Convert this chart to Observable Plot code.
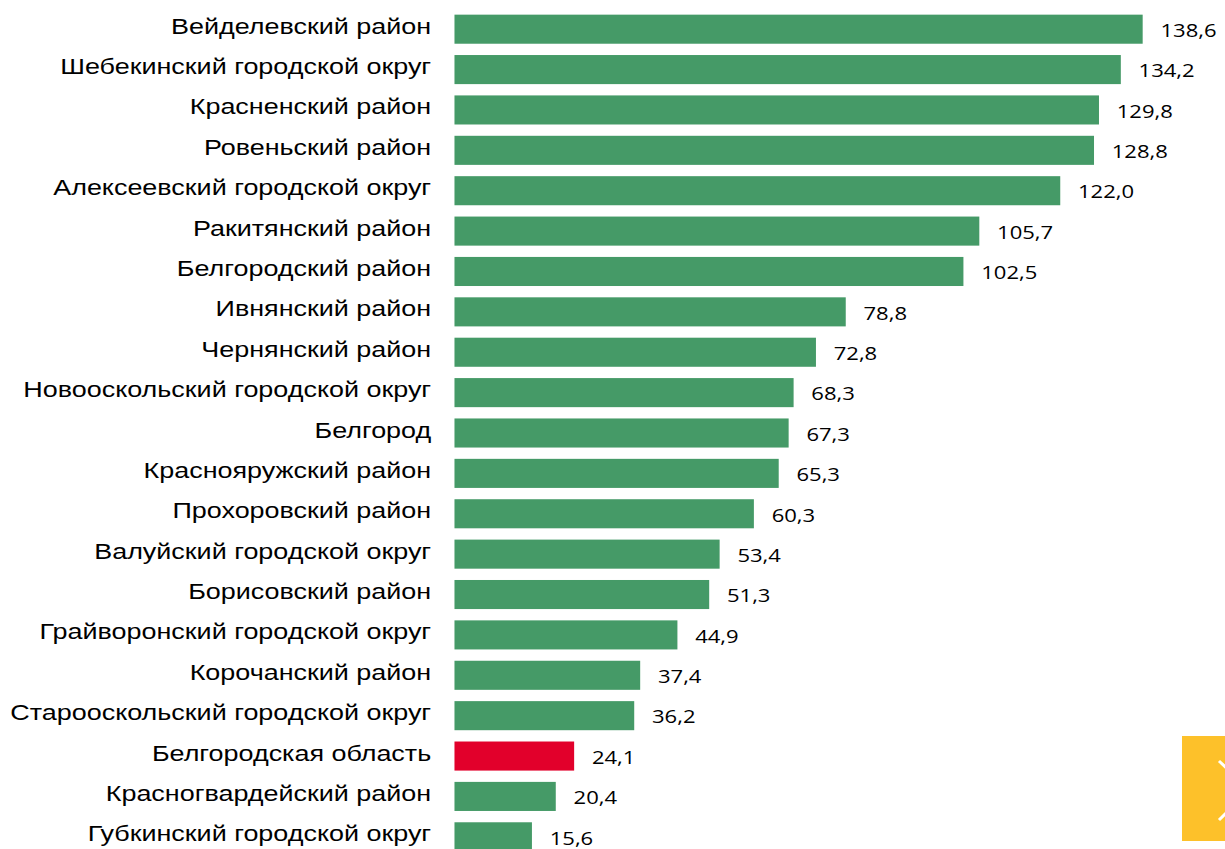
<!DOCTYPE html>
<html>
<head>
<meta charset="utf-8">
<script src="https://cdn.jsdelivr.net/npm/d3@7"></script>
<script src="https://cdn.jsdelivr.net/npm/@observablehq/plot@0.6"></script>
<style>
  html, body { margin: 0; padding: 0; background: #fff; overflow: hidden; width: 1225px; height: 849px; }
  #chart { position: absolute; left: 0; top: 0; }
  #chart svg { transform: scaleX(1.225); transform-origin: 0 0; overflow: visible; }
  #nav { position: absolute; left: 1182px; top: 736px; width: 43px; height: 105px; background: #FDC12A; overflow: hidden; }
</style>
</head>
<body>
<div id="chart"></div>
<div id="nav"><svg width="43" height="105"><polyline points="37,25 68,54 37,84" fill="none" stroke="#fff" stroke-width="3"/></svg></div>
<script>
const categories = [
  "Вейделевский район",
  "Шебекинский городской округ",
  "Красненский район",
  "Ровеньский район",
  "Алексеевский городской округ",
  "Ракитянский район",
  "Белгородский район",
  "Ивнянский район",
  "Чернянский район",
  "Новооскольский городской округ",
  "Белгород",
  "Краснояружский район",
  "Прохоровский район",
  "Валуйский городской округ",
  "Борисовский район",
  "Грайворонский городской округ",
  "Корочанский район",
  "Старооскольский городской округ",
  "Белгородская область",
  "Красногвардейский район",
  "Губкинский городской округ"
];
const values = [138.6, 134.2, 129.8, 128.8, 122.0, 105.7, 102.5, 78.8, 72.8, 68.3, 67.3, 65.3, 60.3, 53.4, 51.3, 44.9, 37.4, 36.2, 24.1, 20.4, 15.6];
const highlighted = ["Белгородская область"];

const data = categories.map((name, i) => ({
  name,
  value: values[i],
  group: highlighted.includes(name) ? "region" : "district"
}));

const fmt = v => v.toFixed(1).replace(".", ",");

const chart = Plot.plot({
  width: 1000,
  height: 860,
  marginLeft: 371,
  marginRight: 21,
  marginTop: 9,
  marginBottom: 3,
  style: { color: "#000", background: "transparent", overflow: "visible" },
  x: { domain: [0, 150], axis: null },
  y: { domain: categories, paddingInner: 0.28, paddingOuter: 0.14, round: false, label: null },
  color: { domain: ["district", "region"], range: ["#459A67", "#E2002B"] },
  marks: [
    Plot.axisY({ tickSize: 0, tickPadding: 19.5, fontSize: 22, fontFamily: "Liberation Sans, Arial, sans-serif", dy: -3, fill: "#000", label: null }),
    Plot.barX(data, { y: "name", x: "value", fill: "group" }),
    Plot.text(data, {
      y: "name", x: "value", text: d => fmt(d.value),
      textAnchor: "start", dx: 14, dy: 1.5,
      fontSize: 18, fontFamily: "Open Sans, sans-serif", fill: "#000"
    })
  ]
});
document.getElementById("chart").appendChild(chart);
</script>
</body>
</html>
